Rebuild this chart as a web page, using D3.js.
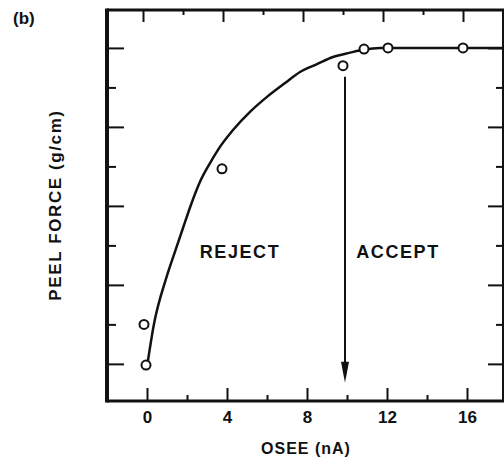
<!DOCTYPE html>
<html>
<head>
<meta charset="utf-8">
<script src="https://cdn.jsdelivr.net/npm/d3@7"></script>
<style>
  body { margin: 0; background: #fff; }
  text { font-family: "Liberation Sans", Arial, sans-serif; font-weight: bold; fill: #111; }
</style>
</head>
<body>
<div id="chart"></div>
<script>
// measured points (OSEE nA, peel force in minor-tick units)
var pointX = [-0.15, -0.05, 3.75, 9.8, 10.85, 12.05, 15.8];
var pointY = [1.0, -0.03, 4.94, 7.55, 7.97, 8.0, 8.0];

// fitted curve
var curveX = [0, 0.33, 0.98, 1.4, 1.8, 2.2, 2.65, 3.1, 3.55, 4.3, 5.15, 6.0, 6.85, 7.65, 8.5, 9.3, 10.15, 10.85, 11.65, 13.0, 15.0, 17.8];
var curveY = [-0.08, 0.96, 2.2, 2.84, 3.44, 4.03, 4.61, 5.04, 5.42, 5.92, 6.38, 6.76, 7.09, 7.39, 7.59, 7.77, 7.88, 7.96, 8.0, 8.0, 8.0, 8.0];

var xMajor = [0, 4, 8, 12, 16];
var xMinor = [2, 6, 10, 14];
var yMajor = [0, 2, 4, 6, 8];
var yMinor = [1, 3, 5, 7];

var arrowX = 9.9, arrowTop = 7.27, arrowTip = -0.48;

var width = 504, height = 459;
var pLeft = 107, pRight = 503, pTop = 10, pBottom = 401;

var svg = d3.select("#chart").append("svg")
  .attr("width", width)
  .attr("height", height);

var x = d3.scaleLinear().domain([-2, 17.8]).range([pLeft, pRight]);
var y = d3.scaleLinear().domain([-0.94, 8.96]).range([pBottom, pTop]);

function clean(g) {
  g.select(".domain").remove();
  g.selectAll(".tick line").attr("stroke", "#111").attr("stroke-width", 2);
}

// bottom axis
svg.append("g").attr("transform", "translate(0," + pBottom + ")")
  .call(d3.axisBottom(x).tickValues(xMajor).tickSize(-13).tickPadding(10).tickFormat(d3.format("d")))
  .call(clean)
  .selectAll("text").style("font-size", "17px").attr("fill", "#111");
svg.append("g").attr("transform", "translate(0," + pBottom + ")")
  .call(d3.axisBottom(x).tickValues(xMinor).tickSize(-6).tickFormat(""))
  .call(clean);

// top axis (slightly offset in the original scan)
var xTop = x.copy().range([pLeft - 4, pRight - 4]);
svg.append("g").attr("transform", "translate(0," + pTop + ")")
  .call(d3.axisTop(xTop).tickValues(xMajor).tickSize(-12).tickFormat(""))
  .call(clean);
svg.append("g").attr("transform", "translate(0," + pTop + ")")
  .call(d3.axisTop(xTop).tickValues(xMinor).tickSize(-5).tickFormat(""))
  .call(clean);

// left axis
svg.append("g").attr("transform", "translate(" + pLeft + ",0)")
  .call(d3.axisLeft(y).tickValues(yMajor).tickSize(-17).tickFormat(""))
  .call(clean);
svg.append("g").attr("transform", "translate(" + pLeft + ",0)")
  .call(d3.axisLeft(y).tickValues(yMinor).tickSize(-9).tickFormat(""))
  .call(clean);

// right axis
svg.append("g").attr("transform", "translate(" + pRight + ",0)")
  .call(d3.axisRight(y).tickValues(yMajor).tickSize(-15).tickFormat(""))
  .call(clean);
svg.append("g").attr("transform", "translate(" + pRight + ",0)")
  .call(d3.axisRight(y).tickValues(yMinor).tickSize(-7).tickFormat(""))
  .call(clean);

// frame
svg.append("line").attr("x1", pLeft).attr("x2", pRight + 1).attr("y1", pTop).attr("y2", pTop)
  .attr("stroke", "#111").attr("stroke-width", 3);
svg.append("line").attr("x1", pLeft).attr("x2", pRight + 1).attr("y1", pBottom).attr("y2", pBottom)
  .attr("stroke", "#111").attr("stroke-width", 3);
svg.append("line").attr("x1", pLeft).attr("x2", pLeft).attr("y1", pTop - 1.5).attr("y2", pBottom + 1.5)
  .attr("stroke", "#111").attr("stroke-width", 4);
svg.append("line").attr("x1", pRight).attr("x2", pRight).attr("y1", pTop).attr("y2", pBottom)
  .attr("stroke", "#111").attr("stroke-width", 2);

// curve
var curveData = curveX.map(function (d, i) { return [d, curveY[i]]; });
svg.append("path")
  .datum(curveData)
  .attr("fill", "none")
  .attr("stroke", "#111")
  .attr("stroke-width", 2.5)
  .attr("d", d3.line()
    .x(function (d) { return x(d[0]); })
    .y(function (d) { return y(d[1]); })
    .curve(d3.curveMonotoneX));

// arrow
svg.append("line")
  .attr("x1", x(arrowX)).attr("x2", x(arrowX))
  .attr("y1", y(arrowTop)).attr("y2", y(arrowTip) - 15)
  .attr("stroke", "#111").attr("stroke-width", 2);
svg.append("path")
  .attr("d", "M" + (x(arrowX) - 4) + "," + (y(arrowTip) - 21) + " L" + (x(arrowX) + 4) + "," + (y(arrowTip) - 21) + " L" + x(arrowX) + "," + y(arrowTip) + " Z")
  .attr("fill", "#111");

// points
svg.append("g").selectAll("circle")
  .data(pointX)
  .enter().append("circle")
  .attr("cx", function (d) { return x(d); })
  .attr("cy", function (d, i) { return y(pointY[i]); })
  .attr("r", 4.5)
  .attr("fill", "#fff")
  .attr("stroke", "#111")
  .attr("stroke-width", 2);

// labels
svg.append("text").attr("x", 240).attr("y", 258).attr("text-anchor", "middle")
  .style("font-size", "18px").style("letter-spacing", "1.6px").text("REJECT");
svg.append("text").attr("x", 398).attr("y", 258).attr("text-anchor", "middle")
  .style("font-size", "18px").style("letter-spacing", "1.6px").text("ACCEPT");

svg.append("text").attr("x", 306).attr("y", 454).attr("text-anchor", "middle")
  .style("font-size", "16px").style("letter-spacing", "1px").text("OSEE (nA)");

svg.append("text")
  .attr("transform", "translate(61,205) rotate(-90)")
  .attr("text-anchor", "middle")
  .style("font-size", "17px").style("letter-spacing", "1.6px")
  .text("PEEL FORCE (g/cm)");

svg.append("text").attr("x", 13).attr("y", 24)
  .style("font-size", "17px").text("(b)");
</script>
</body>
</html>
